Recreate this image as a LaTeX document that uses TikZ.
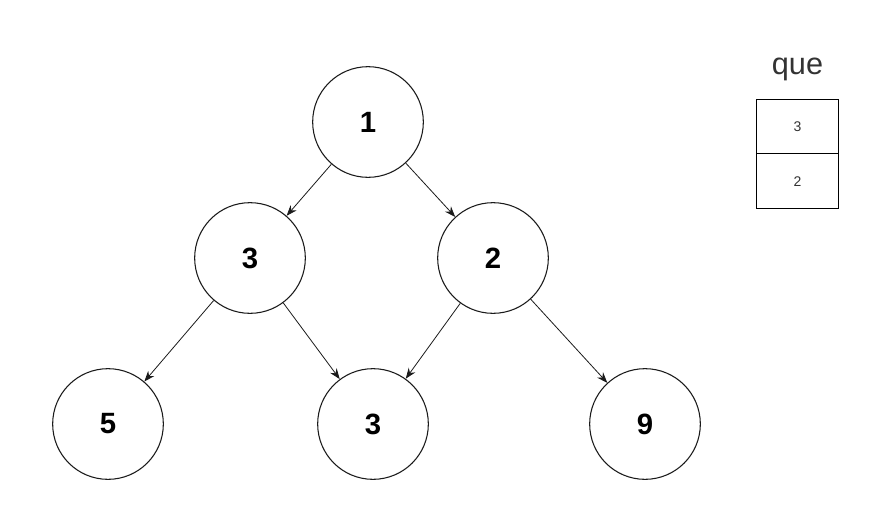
\documentclass[tikz,border=0pt]{standalone}
\usepackage{fontspec}
\setmainfont{Liberation Sans}
\usepackage{xcolor}
\usetikzlibrary{arrows.meta, positioning}
\definecolor{edgegray}{HTML}{1A1A1A}
\definecolor{textgray}{HTML}{333333}

\begin{document}
\begin{tikzpicture}[
        x=0.75pt, y=-0.75pt,
        treenode/.style={
            draw=edgegray,
            circle,
            line width=0.8pt,
            minimum size=83pt,
            inner sep=0pt,
            font=\fontsize{22}{26}\selectfont\bfseries
        },
        qcell/.style={
            draw=black,
            line width=0.8pt,
            minimum width=62pt,
            minimum height=41pt,
            inner sep=0pt,
            outer sep=0pt,
            text=textgray,
            font=\fontsize{10.5}{12}\selectfont
        },
        arrow/.style={-{Stealth[length=8pt, width=6pt]}, line width=0.6pt, draw=edgegray}
    ]
        \useasboundingbox (0,0) rectangle (892,515);

        % tree
        \node[treenode] (root) at (368,122) {1};
        \node[treenode] (left) at (250,258) {3};
        \node[treenode] (right) at (493,258) {2};
        \node[treenode] (leafa) at (108,424) {5};
        \node[treenode] (leafb) at (373,424) {3};
        \node[treenode] (leafc) at (645,424) {9};

        \draw[arrow] (root) -- (left);
        \draw[arrow] (root) -- (right);
        \draw[arrow] (left) -- (leafa);
        \draw[arrow] (left) -- (leafb);
        \draw[arrow] (right) -- (leafb);
        \draw[arrow] (right) -- (leafc);

        % queue
        \node[qcell] (qtop) at (797.5,126.5) {3};
        \node[qcell, below=0pt of qtop] (qbot) {2};
        \node[text=textgray, font=\fontsize{23}{26}\selectfont, above=10pt of qtop] (qlabel) {que};
    \end{tikzpicture}
\end{document}
